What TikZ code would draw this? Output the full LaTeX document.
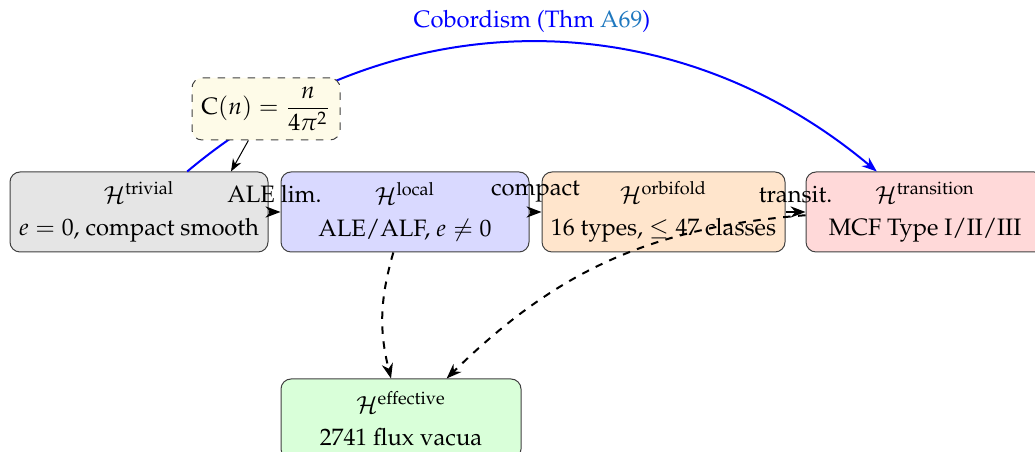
\documentclass[tikz,border=0pt]{standalone}
\usepackage[T1]{fontenc}
\usepackage{mathpazo}
\usepackage{amsmath}
\usetikzlibrary{arrows.meta}

\definecolor{linkblue}{rgb}{0.12,0.47,0.75}
\definecolor{noteyellow}{RGB}{254,251,232}

\begin{document}
\begin{tikzpicture}[font=\fontsize{9.5pt}{12.8pt}\selectfont]
\tikzset{
box/.style={ rectangle , rounded corners=4pt ,
minimum height=32pt , inner sep=3pt , align=center ,
draw=black!75 },
flow/.style={ -{Stealth[length=6pt,width=4.5pt]} , thick },
dflow/.style={ flow , dashed }
}
\useasboundingbox (0,0) rectangle (414pt,-180.8pt);

% the four layers
\node[box,fill=black!10,minimum width=103.2pt] (trivial) at (55.6pt,-84.8pt)
	{$\mathcal{H}^{\text{trivial}}$\\ $e=0$, compact smooth};
\node[box,fill=blue!15,minimum width=99.2pt] (local) at (162pt,-84.8pt)
	{$\mathcal{H}^{\text{local}}$\\ ALE/ALF, $e\neq 0$};
\node[box,fill=orange!20,minimum width=97.2pt] (orbifold) at (265.4pt,-84.8pt)
	{$\mathcal{H}^{\text{orbifold}}$\\ 16 types, $\leq 47$ classes};
\node[box,fill=red!15,minimum width=95.2pt] (transition) at (370pt,-84.8pt)
	{$\mathcal{H}^{\text{transition}}$\\ MCF Type I/II/III};
\node[box,fill=green!15,minimum width=96pt] (effective) at (160.4pt,-167.6pt)
	{$\mathcal{H}^{\text{effective}}$\\ 2741 flux vacua};

\draw[flow] (trivial) -- node[above]{ALE lim.} (local);
\draw[flow] (local) -- node[above]{compact} (orbifold);
\draw[flow] (orbifold) -- node[above]{transit.} (transition);

\draw[dflow] (local) to[bend right=15] (effective);
\draw[dflow] (transition) to[bend right=20] (effective);

% cobordism arc, the constant sits on top of it
\draw[flow,blue] (trivial) to[bend left=40]
	node[above]{Cobordism (Thm \textcolor{linkblue}{A69})} (transition);

\node[box,dashed,fill=noteyellow,minimum width=59.2pt,minimum height=24.8pt] (cn) at (106.4pt,-43.6pt)
	{$\mathrm{C}(n)=\dfrac{n}{4\pi^2}$};
\draw[-{Stealth[length=5pt]}] (cn) -- ([xshift=-15pt]trivial.north east);

\end{tikzpicture}
\end{document}
